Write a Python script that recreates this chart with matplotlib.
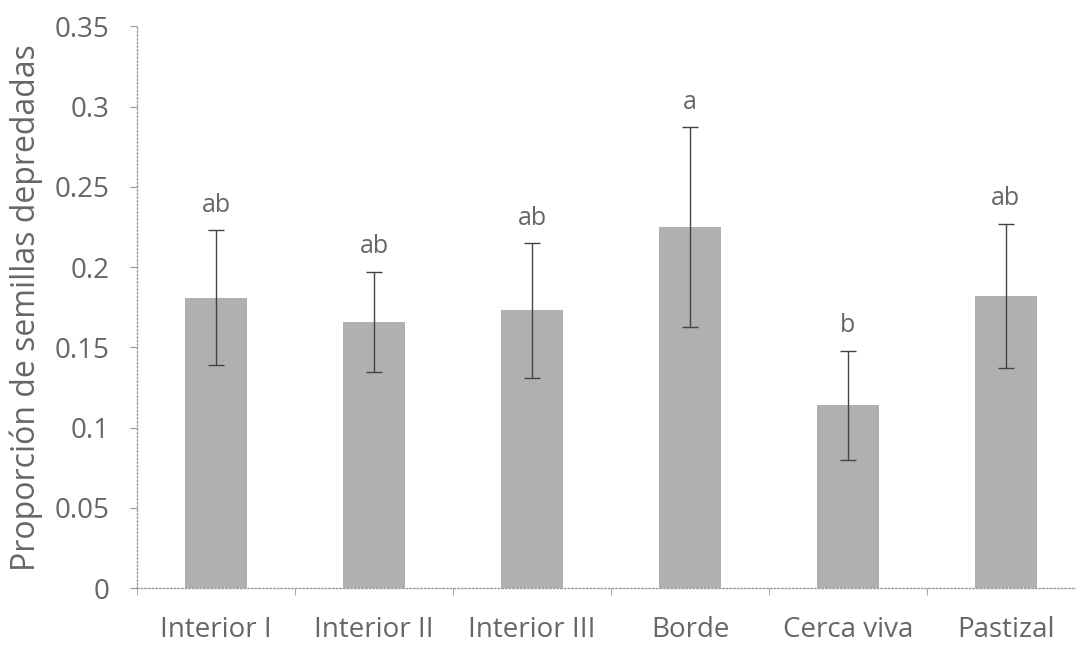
import matplotlib
matplotlib.use('Agg')
import matplotlib.pyplot as plt
import numpy as np

# datos
sitios = ['Interior I', 'Interior II', 'Interior III', 'Borde', 'Cerca viva', 'Pastizal']
proporcion = [0.181, 0.166, 0.173, 0.225, 0.114, 0.182]
error = [0.042, 0.031, 0.042, 0.062, 0.034, 0.045]
letras = ['ab', 'ab', 'ab', 'a', 'b', 'ab']
yticks = [0, 0.05, 0.1, 0.15, 0.2, 0.25, 0.3, 0.35]

plt.rcParams['font.family'] = ['Open Sans', 'DejaVu Sans']
gris = '#666666'

fig = plt.figure(figsize=(10.76, 6.58), dpi=100)
ax = fig.add_axes([0.1273, 0.106, 0.881, 0.854])

x = np.arange(len(sitios))
ax.bar(x, proporcion, width=0.39, color='#b0b0b0', zorder=2)
ax.errorbar(x, proporcion, yerr=error, fmt='none', ecolor='#444444',
            elinewidth=1.0, capsize=6, capthick=1.0, zorder=3)

for xi, v, e, t in zip(x, proporcion, error, letras):
    ax.annotate(t, (xi, v + e), xytext=(0, 9), textcoords='offset points',
                ha='center', va='bottom', fontsize=18, color=gris)

ax.set_xlim(-0.5, len(sitios) - 0.5)
ax.set_ylim(0, 0.35)
ax.set_yticks(yticks)
ax.set_yticklabels(['0', '0.05', '0.1', '0.15', '0.2', '0.25', '0.3', '0.35'])
ax.set_xticks(x)
ax.set_xticklabels(sitios)
ax.set_xticks(np.arange(len(sitios) + 1) - 0.5, minor=True)
ax.tick_params(axis='x', which='major', length=0, pad=20, labelsize=20, labelcolor=gris)
ax.tick_params(axis='x', which='minor', length=5, color='#999999', direction='out')
ax.tick_params(axis='y', length=5, color='#999999', pad=15, labelsize=20, labelcolor=gris)

ax.set_ylabel('Proporción de semillas depredadas', fontsize=23, color=gris, labelpad=8)

for s in ['top', 'right']:
    ax.spines[s].set_visible(False)
for s in ['left', 'bottom']:
    ax.spines[s].set_color('#999999')
    ax.spines[s].set_linestyle(':')
    ax.spines[s].set_linewidth(1.0)

fig.savefig('out.png', dpi=100)
